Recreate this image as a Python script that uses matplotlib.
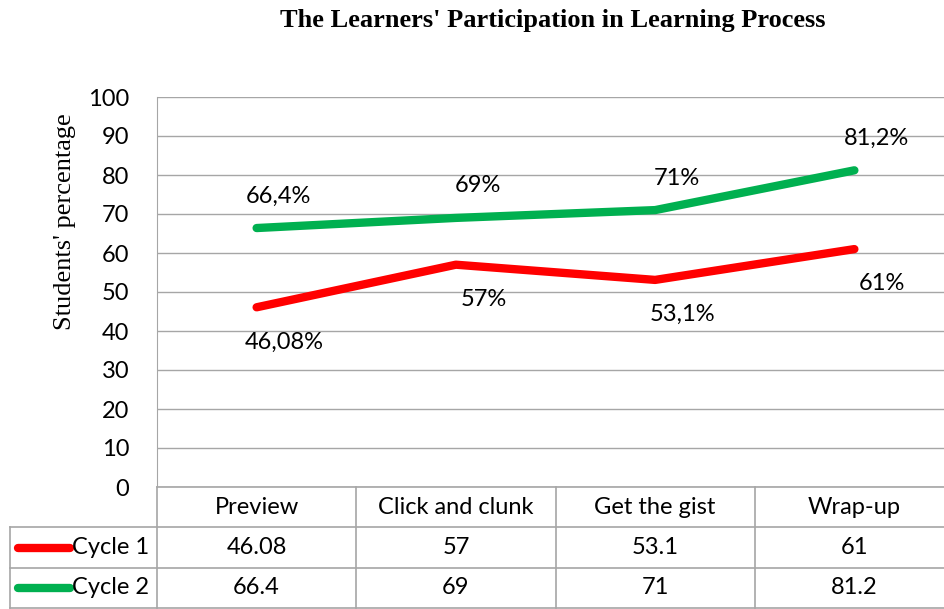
import matplotlib.pyplot as plt
from matplotlib.lines import Line2D

# data
categories = ["Preview", "Click and clunk", "Get the gist", "Wrap-up"]
cycle1 = [46.08, 57, 53.1, 61]
cycle2 = [66.4, 69, 71, 81.2]
cycle1_labels = ["46,08%", "57%", "53,1%", "61%"]
cycle2_labels = ["66,4%", "69%", "71%", "81,2%"]
cycle1_table = ["46.08", "57", "53.1", "61"]
cycle2_table = ["66.4", "69", "71", "81.2"]
series_names = ["Cycle 1", "Cycle 2"]

RED = "#FF0000"
GREEN = "#00B050"
GRID = "#A6A6A6"
SANS = "Lato"
SERIF = "Liberation Serif"
FS = 17

W, H = 944, 609
fig = plt.figure(figsize=(W / 100, H / 100), dpi=100)

# plot area in pixels: x 157..954 (runs past the edge), y 97..487
left, right, top, bottom = 157, 954, 97, 487
ax = fig.add_axes([left / W, (H - bottom) / H, (right - left) / W, (bottom - top) / H])
x = list(range(len(categories)))
ax.set_xlim(-0.5, len(categories) - 0.5)
ax.set_ylim(0, 100)
ax.set_yticks(range(0, 101, 10))
ax.set_xticks([])
ax.tick_params(axis="y", length=0, pad=20, labelsize=FS)
for lbl in ax.get_yticklabels():
    lbl.set_fontfamily(SANS)
ax.grid(axis="y", color=GRID, linewidth=1)
ax.set_axisbelow(True)
for s in ["top", "right", "bottom"]:
    ax.spines[s].set_visible(False)
ax.spines["left"].set_color(GRID)

ax.plot(x, cycle1, color=RED, linewidth=6, solid_capstyle="round", solid_joinstyle="round")
ax.plot(x, cycle2, color=GREEN, linewidth=6, solid_capstyle="round", solid_joinstyle="round")

for xi, v, t in zip(x, cycle2, cycle2_labels):
    ax.annotate(t, (xi, v), xytext=(16, 23), textcoords="offset points",
                ha="center", va="center", fontsize=FS, family=SANS)
for xi, v, t in zip(x, cycle1, cycle1_labels):
    ax.annotate(t, (xi, v), xytext=(20, -25), textcoords="offset points",
                ha="center", va="center", fontsize=FS, family=SANS)

# data table underneath
tl = 10
tax = fig.add_axes([tl / W, 1 / H, (right - tl) / W, (608 - bottom) / H])
lab_w = (left - tl) / ((right - left) / len(categories))
tax.set_xlim(-0.5 - lab_w, len(categories) - 0.5)
tax.set_ylim(0, 3)
tax.axis("off")
lw = 1.2
# horizontal lines
tax.plot([-0.5, 3.5], [3, 3], color=GRID, lw=lw, clip_on=False)
for yy in [2, 1, 0]:
    tax.plot([-0.5 - lab_w, 3.5], [yy, yy], color=GRID, lw=lw, clip_on=False)
# vertical lines
for xx in [-0.5, 0.5, 1.5, 2.5]:
    tax.plot([xx, xx], [0, 3], color=GRID, lw=lw, clip_on=False)
tax.plot([-0.5 - lab_w, -0.5 - lab_w], [0, 2], color=GRID, lw=lw, clip_on=False)

for xi, c in zip(x, categories):
    tax.text(xi, 2.5, c, ha="center", va="center", fontsize=FS, family=SANS)
for xi, a, b in zip(x, cycle1_table, cycle2_table):
    tax.text(xi, 1.5, a, ha="center", va="center", fontsize=FS, family=SANS)
    tax.text(xi, 0.5, b, ha="center", va="center", fontsize=FS, family=SANS)

key_x0 = -0.5 - lab_w + 0.04
key_x1 = key_x0 + 0.26
for yy, name, col in [(1.5, series_names[0], RED), (0.5, series_names[1], GREEN)]:
    tax.add_line(Line2D([key_x0, key_x1], [yy, yy], color=col, lw=6,
                        solid_capstyle="round", clip_on=False))
    tax.text(key_x1 + 0.012, yy, name, ha="left", va="center", fontsize=FS, family=SANS)

fig.text(553 / W, 1 - 20 / H, "The Learners' Participation in Learning Process",
         ha="center", va="center", fontsize=19, fontweight="bold", family=SERIF)
fig.text(65 / W, 1 - 222 / H, "Students' percentage", rotation=90,
         ha="center", va="center", fontsize=19, family=SERIF)

fig.savefig("out.png", dpi=100)
